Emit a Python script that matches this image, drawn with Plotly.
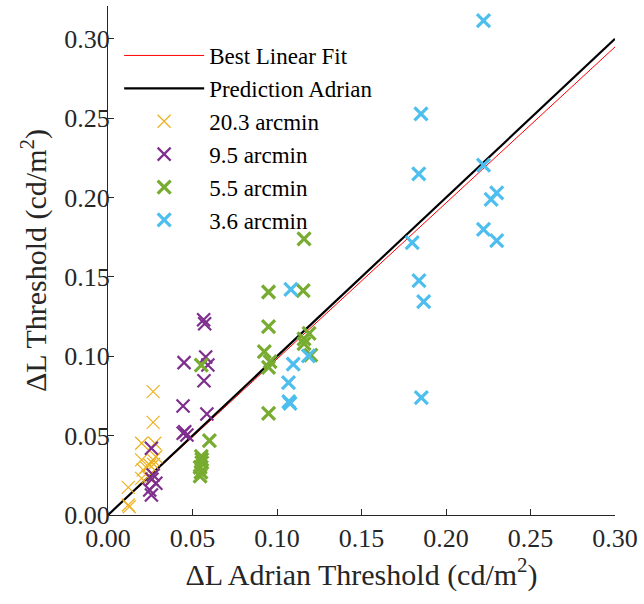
import plotly.graph_objects as go

# ---- data ----
fit_x = [0.0, 0.30]
fit_slope = 0.983
pred_x = [0.0, 0.30]

y20_x = [0.0267, 0.0267, 0.0199, 0.0277, 0.0199, 0.0267, 0.0283, 0.0247, 0.0208, 0.0199, 0.0237, 0.0120, 0.0120, 0.0126, 0.0225, 0.0270]
y20_y = [0.0777, 0.0584, 0.0452, 0.0452, 0.0347, 0.0347, 0.0367, 0.0315, 0.0284, 0.0231, 0.0241, 0.0174, 0.0063, 0.0052, 0.0300, 0.0320]

p95_x = [0.0566, 0.0572, 0.0578, 0.0591, 0.0450, 0.0568, 0.0444, 0.0585, 0.0454, 0.0467, 0.0445, 0.0257, 0.0267, 0.0283, 0.0247, 0.0257, 0.0260]
p95_y = [0.1230, 0.1205, 0.0995, 0.0945, 0.0960, 0.0846, 0.0687, 0.0636, 0.0525, 0.0504, 0.0515, 0.0420, 0.0252, 0.0200, 0.0158, 0.0126, 0.0225]

g55_x = [0.0950, 0.1155, 0.1160, 0.0950, 0.0925, 0.0959, 0.0950, 0.1160, 0.1190, 0.1160, 0.1200, 0.0950, 0.0552, 0.0600, 0.0552, 0.0555, 0.0545, 0.0550, 0.0545, 0.0555]
g55_y = [0.1405, 0.1413, 0.1740, 0.1187, 0.1029, 0.0966, 0.0930, 0.1110, 0.1145, 0.1080, 0.1008, 0.0640, 0.0945, 0.0468, 0.0370, 0.0330, 0.0300, 0.0270, 0.0245, 0.0350]

b36_x = [0.2222, 0.1852, 0.1839, 0.2222, 0.2300, 0.2267, 0.2222, 0.2300, 0.1800, 0.1840, 0.1868, 0.1854, 0.1082, 0.1096, 0.1186, 0.1068, 0.1077, 0.1070]
b36_y = [0.3115, 0.2527, 0.2149, 0.2205, 0.2030, 0.1989, 0.1800, 0.1728, 0.1716, 0.1476, 0.1344, 0.0739, 0.1422, 0.0951, 0.1002, 0.0834, 0.0704, 0.0715]

names = ["20.3 arcmin", "9.5 arcmin", "5.5 arcmin", "3.6 arcmin"]
colors = ["#EDB120", "#7E2F8E", "#77AC30", "#4DBEEE"]
widths = [1.2, 2.2, 3.2, 3.2]

FONT = "Liberation Serif"

fig = go.Figure()
fig.add_trace(go.Scatter(x=fit_x, y=[fit_slope * v for v in fit_x], mode="lines",
                         line=dict(color="#FF0000", width=1), name="Best Linear Fit"))
fig.add_trace(go.Scatter(x=pred_x, y=pred_x, mode="lines",
                         line=dict(color="#000000", width=2.2), name="Prediction Adrian"))

for xs, ys, nm, c, w in zip([y20_x, p95_x, g55_x, b36_x], [y20_y, p95_y, g55_y, b36_y], names, colors, widths):
    fig.add_trace(go.Scatter(x=xs, y=ys, mode="markers", name=nm,
                             marker=dict(symbol="x-thin", size=13, color=c,
                                         line=dict(color=c, width=w))))

axis_common = dict(showgrid=False, zeroline=False, showline=True, linecolor="#262626", linewidth=1,
                   ticks="inside", ticklen=6, tickcolor="#262626", tickformat=".2f",
                   tickfont=dict(family=FONT, size=26, color="#262626"))

fig.update_xaxes(range=[0, 0.30], dtick=0.05, tick0=0,
                 title=dict(text="ΔL Adrian Threshold (cd/m<sup>2</sup>)", font=dict(family=FONT, size=30, color="#262626"), standoff=10),
                 **axis_common)
fig.update_yaxes(range=[0, 0.3207], dtick=0.05, tick0=0, ticklabelstandoff=-8,
                 title=dict(text="ΔL Threshold (cd/m<sup>2</sup>)", font=dict(family=FONT, size=30, color="#262626"), standoff=8),
                 **axis_common)

fig.update_layout(
    width=644, height=604,
    margin=dict(l=108, r=27, t=6, b=89),
    plot_bgcolor="white", paper_bgcolor="white",
    font=dict(family=FONT, color="#000000"),
    legend=dict(x=0.022, y=0.945, xanchor="left", yanchor="top", bgcolor="rgba(0,0,0,0)",
                font=dict(family=FONT, size=23, color="#000000"), itemwidth=80, tracegroupgap=0),
)

fig.write_html("out.html")
